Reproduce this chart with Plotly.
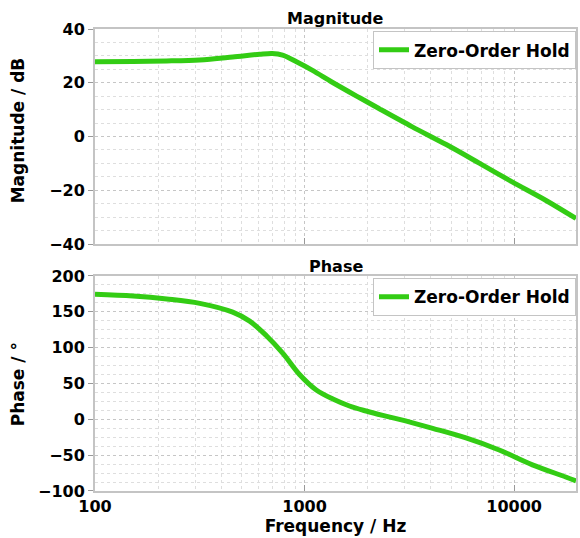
import plotly.graph_objects as go
from plotly.subplots import make_subplots

freq_mag = [100, 152, 220, 316, 454, 610, 700, 785, 915, 1091, 1355, 1832, 2276, 3266, 4742, 6813, 9780, 14190, 19720]
mag_db = [27.8, 27.9, 28.1, 28.5, 29.6, 30.6, 30.9, 30.3, 27.8, 24.6, 20.2, 14.4, 10.3, 3.6, -3.0, -9.9, -16.9, -23.8, -30.5]

freq_ph = [100, 152, 220, 316, 454, 547, 656, 788, 946, 1137, 1365, 1637, 1966, 2360, 2833, 4085, 5888, 8483, 12220, 17620, 19720]
phase_deg = [174.4, 172.0, 167.9, 161.8, 149.5, 137.0, 117.0, 92.0, 62.5, 40.9, 28.3, 18.6, 11.6, 5.5, 0.0, -12.6, -26.0, -42.8, -63.5, -80.5, -86.0]

series_name = "Zero-Order Hold"
mag_ticks = [-40, -20, 0, 20, 40]
phase_ticks = [-100, -50, 0, 50, 100, 150, 200]

GREEN = "#33cc14"
FONT = "DejaVu Sans"
AXC = "#c4c4c4"
GRID_MAJOR = "#c6c6c6"
GRID_MINOR = "#dedede"

fig = make_subplots(rows=2, cols=1, shared_xaxes=False, vertical_spacing=0.0692,
                    row_heights=[0.5, 0.5])

fig.add_trace(go.Scatter(x=freq_mag, y=mag_db, mode="lines", name=series_name,
                         line=dict(color=GREEN, width=5, shape="spline", smoothing=0.9),
                         legend="legend"), row=1, col=1)
fig.add_trace(go.Scatter(x=freq_ph, y=phase_deg, mode="lines", name=series_name,
                         line=dict(color=GREEN, width=5, shape="spline", smoothing=1.0),
                         legend="legend2"), row=2, col=1)

xcommon = dict(type="log", range=[2, 4.295], showline=True, mirror=True, linecolor=AXC, linewidth=2,
               showgrid=True, gridcolor=GRID_MAJOR, griddash="dot", gridwidth=1,
               ticks="inside", ticklen=6, tickcolor="#999",
               tickvals=[100, 1000, 10000], ticktext=["100", "1000", "10000"],
               tickfont=dict(family=FONT, size=16, color="black", weight="bold"),
               minor=dict(dtick="D1", showgrid=True, gridcolor=GRID_MINOR, griddash="dot", ticks=""),
               zeroline=False)
fig.update_xaxes(**xcommon)
fig.update_xaxes(showticklabels=False, row=1, col=1)
fig.update_xaxes(title=dict(text="Frequency / Hz", standoff=1,
                            font=dict(family=FONT, size=17, color="black", weight="bold")), row=2, col=1)

ycommon = dict(showline=True, mirror=True, linecolor=AXC, linewidth=2,
               showgrid=True, gridcolor=GRID_MAJOR, griddash="dot", gridwidth=1,
               ticks="outside", ticklen=5, tickcolor="#999", zeroline=False,
               tickfont=dict(family=FONT, size=16, color="black", weight="bold"))
fig.update_yaxes(**ycommon)
fig.update_yaxes(range=[-40, 40], tickvals=mag_ticks,
                 minor=dict(dtick=5, showgrid=True, gridcolor=GRID_MINOR, griddash="dot", ticks=""),
                 row=1, col=1)
fig.update_yaxes(range=[-100, 200], tickvals=phase_ticks,
                 minor=dict(dtick=12.5, showgrid=True, gridcolor=GRID_MINOR, griddash="dot", ticks=""),
                 row=2, col=1)

legend_common = dict(x=1, xanchor="right", yanchor="top", bgcolor="white", bordercolor=AXC, borderwidth=1,
                     font=dict(family=FONT, size=17, color="black", weight="bold"),
                     itemwidth=30, tracegroupgap=0)
title_font = dict(family=FONT, size=16, color="black", weight="bold")
ytitle_font = dict(family=FONT, size=17, color="black", weight="bold")
ytitle_x = (18 - 95) / 483
fig.update_layout(
    width=580, height=538,
    margin=dict(l=95, r=2, t=29, b=47),
    paper_bgcolor="white", plot_bgcolor="white",
    showlegend=True,
    legend=dict(y=0.995, **legend_common),
    legend2=dict(y=0.4654 - 0.005, **legend_common),
    annotations=[
        dict(text="Magnitude", x=0.5, y=1, xref="paper", yref="paper", xanchor="center", yanchor="bottom",
             showarrow=False, yshift=-1, font=title_font),
        dict(text="Phase", x=0.5, y=0.4654, xref="paper", yref="paper", xanchor="center", yanchor="bottom",
             showarrow=False, yshift=-2, font=title_font),
        dict(text="Magnitude / dB", x=ytitle_x, y=(491 - 130) / 462, xref="paper", yref="paper",
             xanchor="center", yanchor="middle", textangle=-90, showarrow=False, font=ytitle_font),
        dict(text="Phase / °", x=ytitle_x, y=(491 - 384) / 462, xref="paper", yref="paper",
             xanchor="center", yanchor="middle", textangle=-90, showarrow=False, font=ytitle_font),
    ],
)

fig.write_html("out.html", config={"displayModeBar": False},
               post_script="document.body.style.margin='0';document.body.style.overflow='hidden';")
